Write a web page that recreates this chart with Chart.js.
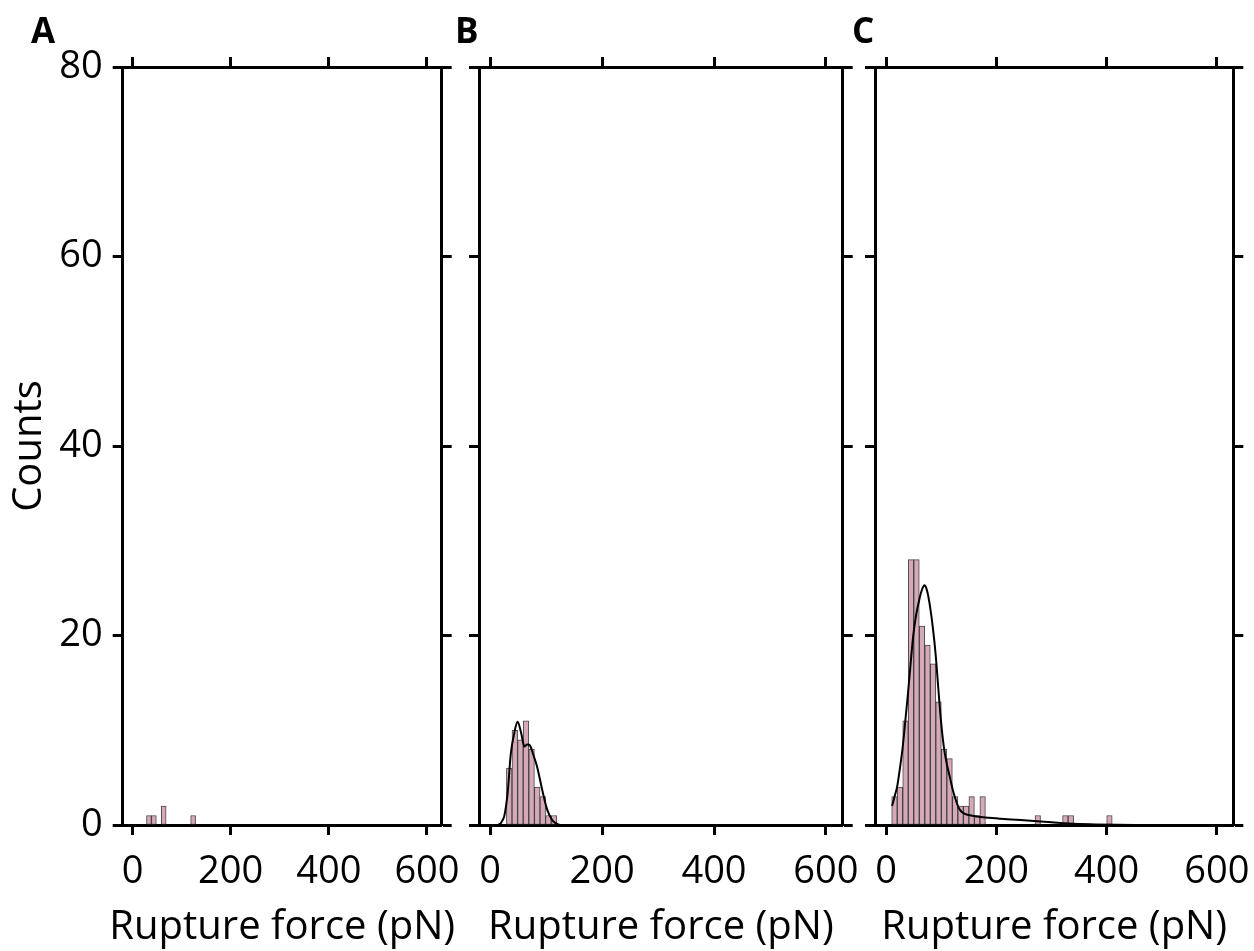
<!DOCTYPE html>
<html>
<head>
<meta charset="utf-8">
<script src="https://cdn.jsdelivr.net/npm/chart.js@4.4.1/dist/chart.umd.min.js"></script>
<style>
  html, body { margin: 0; padding: 0; background: #fff; }
  #wrap { position: relative; width: 1254px; height: 951px; overflow: hidden; }
  canvas { position: absolute; top: 0; }
</style>
</head>
<body>
<div id="wrap">
  <canvas id="panelA" width="480" height="951" style="left:0px"></canvas>
  <canvas id="panelB" width="440" height="951" style="left:440px"></canvas>
  <canvas id="panelC" width="414" height="951" style="left:840px"></canvas>
</div>
<script>
// axis ticks shared by the three panels
const xTicks = [0, 200, 400, 600];
const yTicks = [0, 20, 40, 60, 80];
const xTitle = 'Rupture force (pN)';
const yTitle = 'Counts';

// histograms: first bin edge (pN) and counts per 10 pN bin
const binWidth = 10;
const aBinStart = 28.5;
const aCounts = [1, 1, 0, 2, 0, 0, 0, 0, 0, 1];
const bBinStart = 29;
const bCounts = [6, 10, 9, 11, 8, 4, 3, 1, 1];
const cBinStart = 10.3;
const cCounts = [3, 4, 11, 28, 28, 21, 19, 17, 13, 8, 7, 3, 2, 2, 3, 1, 3,
                 0, 0, 0, 0, 0, 0, 0, 0, 0, 1, 0, 0, 0, 0, 1, 1,
                 0, 0, 0, 0, 0, 0, 1];

// density curves, scaled to counts
const bKdeX = [14, 19, 25, 31, 37, 43, 49, 55, 61, 66, 71, 76, 84, 93, 102, 111, 117, 124];
const bKdeY = [0, 0.2, 0.9, 3.3, 7.6, 9.7, 10.9, 9.8, 8.3, 8.5, 8.4, 7.6, 6.1, 3.7, 1.6, 0.5, 0.2, 0];
const cKdeX = [11, 15, 20, 25, 30, 35, 40, 45, 50, 55, 60, 65, 70, 75, 80, 85, 90, 95, 100,
               105, 110, 116, 122, 128, 134, 142, 150, 165, 180, 200, 220, 250, 275, 300,
               330, 370, 420, 480];
const cKdeY = [2.0, 2.9, 4.0, 5.9, 8.1, 11.0, 14.0, 17.3, 20.3, 22.3, 23.7, 24.8, 25.3, 24.6,
               23.0, 20.8, 18.0, 14.3, 10.8, 8.2, 6.5, 5.0, 3.5, 2.4, 1.6, 1.2, 1.05, 0.9, 0.8,
               0.7, 0.6, 0.5, 0.4, 0.3, 0.17, 0.07, 0.02, 0];

const X_MIN = -20, X_MAX = 630;
const TOP_H = 67, BOTTOM_H = 126;
const LINE_W = 3, TICK_LEN = 10;

Chart.defaults.font.family = "'Open Sans', sans-serif";
Chart.defaults.color = '#000';

function histPoints(start, counts) {
  return counts
    .map((c, i) => ({ x: start + binWidth * (i + 0.5), y: c }))
    .filter(p => p.y > 0);
}

function axisLines() {
  return {
    grid: { offset: false, drawOnChartArea: false, drawTicks: true, tickLength: TICK_LEN, tickWidth: LINE_W, tickColor: '#000' },
    border: { display: true, color: '#000', width: LINE_W }
  };
}

// fixed axis box sizes, no extra room for overhanging labels
function fixHeight(h) {
  return s => { s.height = h; s.paddingLeft = 0; s.paddingRight = 0; };
}
function fixWidth(w) {
  return s => { s.width = w; s.paddingTop = 0; s.paddingBottom = 0; };
}

// panel letter and x axis title (drawn here so the title is never squeezed)
const panelText = {
  id: 'panelText',
  afterDraw(chart, args, opts) {
    const ctx = chart.ctx;
    const area = chart.chartArea;
    ctx.save();
    ctx.fillStyle = '#000';
    ctx.font = "bold 35px 'Open Sans', sans-serif";
    ctx.textAlign = 'left';
    ctx.textBaseline = 'alphabetic';
    ctx.fillText(opts.letter, opts.letterX, 43);
    ctx.font = "40px 'Open Sans', sans-serif";
    ctx.textAlign = 'center';
    ctx.textBaseline = 'middle';
    ctx.fillText(xTitle, (area.left + area.right) / 2, chart.height - 23);
    ctx.restore();
  }
};

function makePanel(id, cfg) {
  const canvas = document.getElementById(id);
  const datasets = [];
  if (cfg.kdeX) {
    datasets.push({
      type: 'line',
      data: cfg.kdeX.map((x, i) => ({ x: x, y: cfg.kdeY[i] })),
      borderColor: '#000',
      borderWidth: 2,
      pointRadius: 0,
      tension: 0.35,
      fill: false,
      order: 0,
      xAxisID: 'x',
      yAxisID: 'y'
    });
  }
  datasets.push({
    type: 'bar',
    data: histPoints(cfg.binStart, cfg.counts),
    backgroundColor: '#d6a9b8',
    borderColor: 'rgba(40,40,40,0.85)',
    borderWidth: 1,
    borderSkipped: false,
    barPercentage: 1,
    categoryPercentage: 1,
    order: 1,
    xAxisID: 'x',
    yAxisID: 'y'
  });

  const setXTicks = s => { s.ticks = xTicks.map(v => ({ value: v })); };
  const setYTicks = s => { s.ticks = yTicks.map(v => ({ value: v })); };

  return new Chart(canvas, {
    data: { datasets: datasets },
    plugins: [panelText],
    options: {
      responsive: false,
      animation: false,
      events: [],
      layout: { padding: 0 },
      plugins: {
        legend: { display: false },
        tooltip: { enabled: false },
        panelText: { letter: cfg.letter, letterX: cfg.letterX }
      },
      scales: {
        x: Object.assign({
          type: 'linear', position: 'bottom', min: X_MIN, max: X_MAX, offset: false,
          afterBuildTicks: setXTicks,
          afterFit: fixHeight(BOTTOM_H),
          ticks: { font: { size: 38 }, color: '#000', padding: 14, maxRotation: 0, autoSkip: false }
        }, axisLines()),
        xTop: Object.assign({
          type: 'linear', position: 'top', min: X_MIN, max: X_MAX, offset: false,
          afterBuildTicks: setXTicks,
          afterFit: fixHeight(TOP_H),
          ticks: { display: false }
        }, axisLines()),
        y: Object.assign({
          type: 'linear', position: 'left', min: 0, max: 80,
          afterBuildTicks: setYTicks,
          afterFit: fixWidth(cfg.plotLeft),
          ticks: { display: cfg.yLabels, font: { size: 38 }, color: '#000', padding: 10 },
          title: { display: cfg.yLabels, text: yTitle, font: { size: 40 }, color: '#000', padding: { top: 6, bottom: 0 } }
        }, axisLines()),
        yRight: Object.assign({
          type: 'linear', position: 'right', min: 0, max: 80,
          afterBuildTicks: setYTicks,
          afterFit: fixWidth(canvas.width - cfg.plotRight),
          ticks: { display: false }
        }, axisLines())
      }
    }
  });
}

makePanel('panelA', {
  letter: 'A', letterX: 31, plotLeft: 122.7, plotRight: 441.7, yLabels: true,
  binStart: aBinStart, counts: aCounts
});
makePanel('panelB', {
  letter: 'B', letterX: 15, plotLeft: 39, plotRight: 402.7, yLabels: false,
  binStart: bBinStart, counts: bCounts, kdeX: bKdeX, kdeY: bKdeY
});
makePanel('panelC', {
  letter: 'C', letterX: 12, plotLeft: 35, plotRight: 393.3, yLabels: false,
  binStart: cBinStart, counts: cCounts, kdeX: cKdeX, kdeY: cKdeY
});
</script>
</body>
</html>
